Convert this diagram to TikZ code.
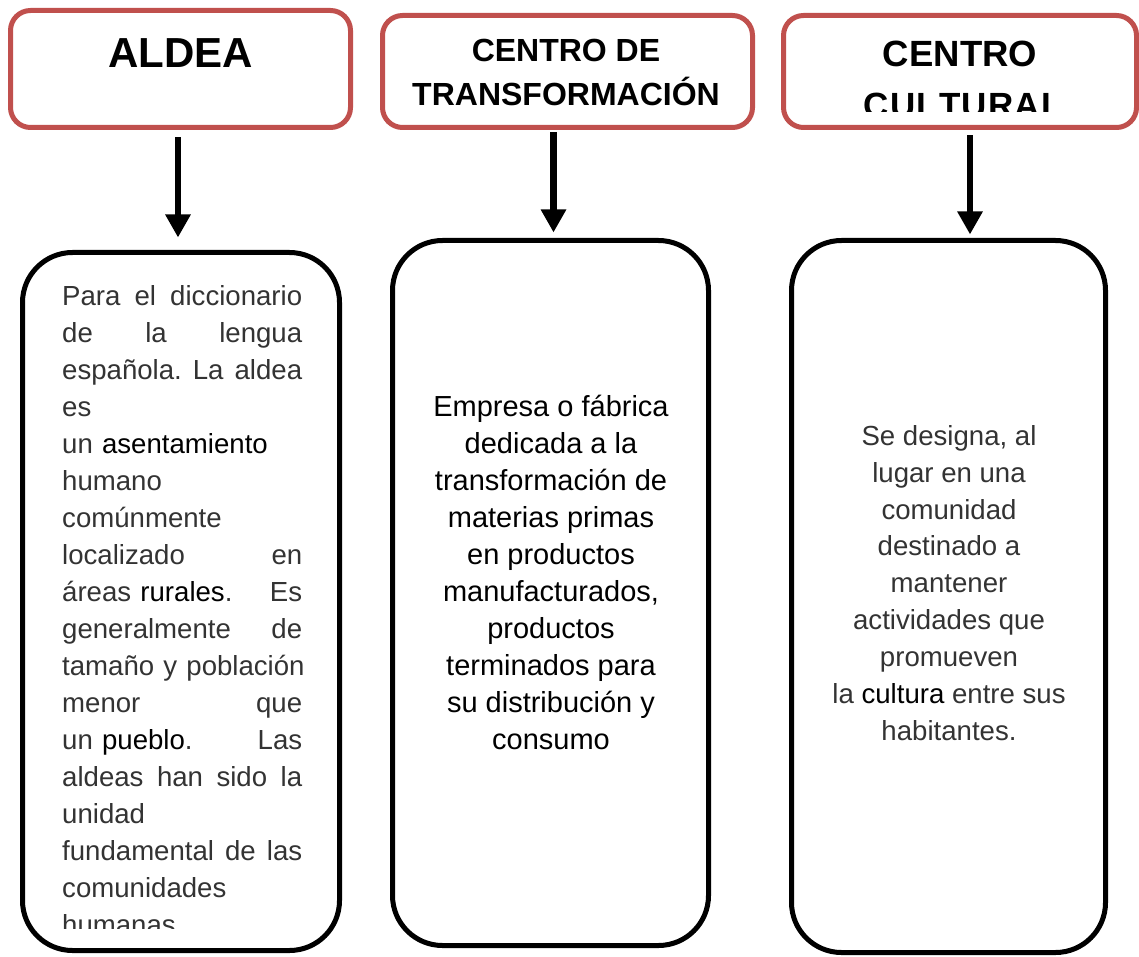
\documentclass[tikz,border=0pt]{standalone}
\usepackage{fontspec}
\setmainfont{Liberation Sans}
\usetikzlibrary{arrows.meta}
\definecolor{boxred}{HTML}{C0504D}
\definecolor{txtgray}{HTML}{333333}
\newcommand{\jl}[1]{\leavevmode\hbox to 240pt{#1}}
\newcommand{\lk}[1]{{\color{black}#1}}
\newcommand{\lsp}{\kern1.2pt}
\frenchspacing

\begin{document}
\begin{tikzpicture}[x=1pt, y=-1pt]
    \tikzstyle{every node}=[inner sep=0pt]
    \tikzset{
        head/.style={draw=boxred, line width=5pt, rounded corners=20pt},
        body/.style={draw=black, line width=5pt, rounded corners=50pt},
        title/.style={anchor=base, font=\bfseries},
        arr/.style={line width=6.5pt, -{Triangle[width=24pt, length=23pt]}}
        }
    \useasboundingbox (0,0) rectangle (1139,957);

    %headers
    \node (aldea) [head, minimum width=340pt, minimum height=117pt] at (180.5,69) {};
    \node (transf) [head, minimum width=370pt, minimum height=112pt] at (567.5,71.5) {};
    \node (cultural) [head, minimum width=353pt, minimum height=112pt] at (960,71.5) {};

    \node (aldeat) [title, font=\bfseries\fontsize{42}{50}\selectfont] at (181,68) {ALDEA};
    \node (transft1) [title, font=\bfseries\fontsize{32}{40}\selectfont] at (566,62) {CENTRO DE};
    \node (transft2) [title, font=\bfseries\fontsize{32}{40}\selectfont] at (566,106) {TRANSFORMACIÓN};
    \node (culturalt1) [title, font=\bfseries\fontsize{36.5}{44}\selectfont] at (960,67) {CENTRO};
    \begin{scope}
        \clip (781,0) rectangle (1139,112);
        \node (culturalt2) [title, font=\bfseries\fontsize{35}{42}\selectfont] at (963,118) {C\lsp U\lsp L\lsp T\lsp U\lsp R\lsp A\lsp L};
    \end{scope}

    %bodies
    \node (aldeabox) [body, minimum width=317pt, minimum height=698pt] at (181,601.5) {};
    \node (transfbox) [body, minimum width=316pt, minimum height=705pt] at (550.5,593) {};
    \node (culturalbox) [body, minimum width=314pt, minimum height=712pt] at (948.5,596.5) {};

    %texts
    \begin{scope}
        \clip (0,0) rectangle (1139,928);
        \node (aldeatxt) [anchor=north west, text width=240pt, align=left, text=txtgray,
            font=\fontsize{27.6}{37}\selectfont] at (62,285) {
            \jl{Para \hfill el \hfill diccionario}\\
            \jl{de \hfill la \hfill lengua}\\
            \jl{española. \hfill La \hfill aldea}\\
            es\\
            un \lk{asentamiento}\\
            humano\\
            comúnmente\\
            \jl{localizado \hfill en}\\
            \jl{áreas \lk{rurales}. \hfill Es}\\
            \jl{generalmente \hfill de}\\
            \jl{tamaño \hfill y \hfill población}\\
            \jl{menor \hfill que}\\
            \jl{un \lk{pueblo}. \hfill Las}\\
            \jl{aldeas \hfill han \hfill sido \hfill la}\\
            unidad\\
            \jl{fundamental \hfill de \hfill las}\\
            comunidades\\
            humanas};
    \end{scope}

    \node (transftxt) [anchor=north, align=center, font=\fontsize{29}{37}\selectfont] at (551,394.5) {
        Empresa o fábrica\\ dedicada a la\\ transformación de\\ materias primas\\
        en productos\\ manufacturados,\\ productos\\ terminados para\\
        su distribución y\\ consumo};

    \node (culturaltxt) [anchor=north, align=center, text=txtgray, font=\fontsize{27.6}{36.9}\selectfont] at (949,425) {
        Se designa, al\\ lugar en una\\ comunidad\\ destinado a\\ mantener\\
        actividades que\\ promueven\\ la \lk{cultura} entre sus\\ habitantes.};

    %arrows
    \draw[arr, shorten <=7.5pt, shorten >=12.5pt] ([xshift=-2.5pt]aldea.south) -- ([xshift=-3pt]aldeabox.north);
    \draw[arr, shorten <=2.5pt, shorten >=5.5pt] ([xshift=-14pt]transf.south) -- ([xshift=3pt]transfbox.north);
    \draw[arr, shorten <=5.5pt, shorten >=3.5pt] ([xshift=10pt]cultural.south) -- ([xshift=21.5pt]culturalbox.north);
\end{tikzpicture}
\end{document}
